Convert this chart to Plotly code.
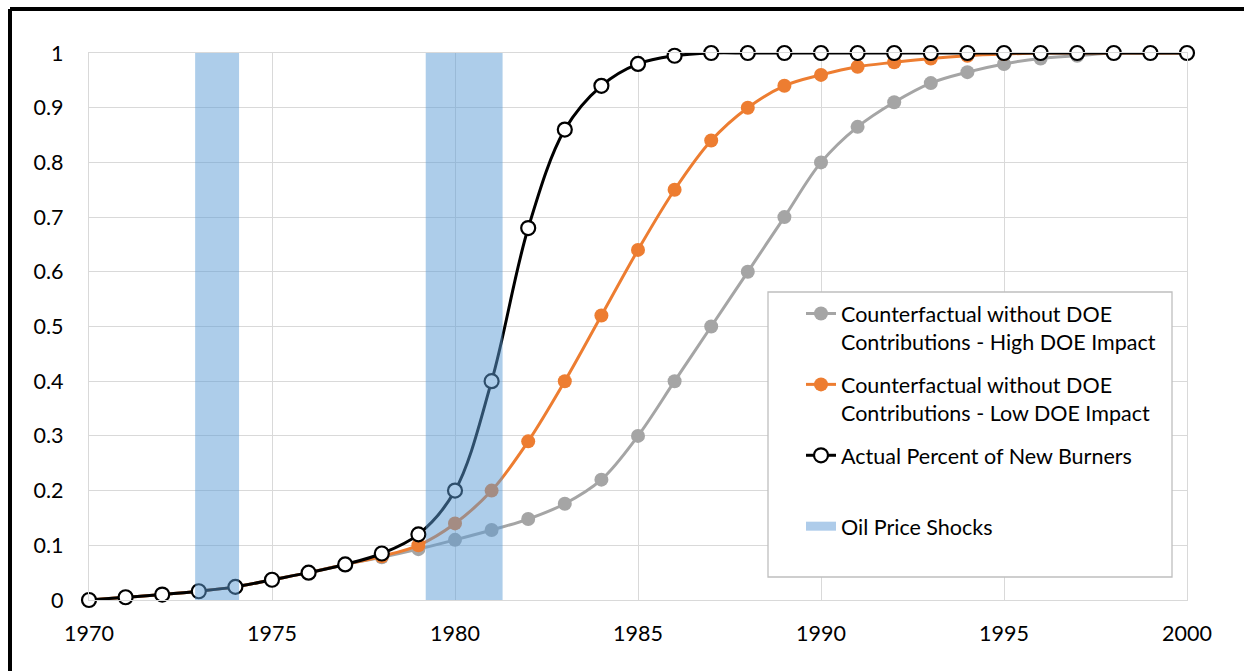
import plotly.graph_objects as go

years = list(range(1970, 2001))

high_impact = [0, 0.005, 0.01, 0.016, 0.024, 0.037, 0.05, 0.065, 0.078, 0.093,
               0.11, 0.128, 0.148, 0.176, 0.22, 0.30, 0.40, 0.50, 0.60, 0.70,
               0.80, 0.865, 0.91, 0.945, 0.965, 0.98, 0.99, 0.995, 1.0, 1.0, 1.0]
low_impact = [0, 0.005, 0.01, 0.016, 0.024, 0.037, 0.05, 0.065, 0.08, 0.10,
              0.14, 0.20, 0.29, 0.40, 0.52, 0.64, 0.75, 0.84, 0.90, 0.94,
              0.96, 0.975, 0.983, 0.99, 0.995, 0.998, 1.0, 1.0, 1.0, 1.0, 1.0]
actual = [0, 0.005, 0.01, 0.016, 0.024, 0.037, 0.05, 0.065, 0.085, 0.12,
          0.20, 0.40, 0.68, 0.86, 0.94, 0.98, 0.995, 1.0, 1.0, 1.0,
          1.0, 1.0, 1.0, 1.0, 1.0, 1.0, 1.0, 1.0, 1.0, 1.0, 1.0]

shock_starts = [1972.9, 1979.2]
shock_ends = [1974.1, 1981.3]

names = ["Counterfactual without DOE<br>Contributions - High DOE Impact",
         "Counterfactual without DOE<br>Contributions - Low DOE Impact",
         "Actual Percent of New Burners<br> ",
         "Oil Price Shocks"]

FONT = "Lato, 'Open Sans', sans-serif"
FS = 21.5
W, H = 1244, 671
L, R, T, B = 89, 1187, 53, 600  # plot area in screenshot pixels
pw, ph = R - L, B - T


def px_x(p):
    return (p - L) / pw


def px_y(p):
    return (B - p) / ph


fig = go.Figure()
fig.add_trace(go.Scatter(x=years, y=high_impact, name=names[0], mode="lines+markers",
                         legendgroup="g1",
                         line=dict(color="#A5A5A5", width=3, shape="spline"),
                         marker=dict(size=14, color="#A5A5A5"), cliponaxis=False))
fig.add_trace(go.Scatter(x=years, y=low_impact, name=names[1], mode="lines+markers",
                         legendgroup="g2",
                         line=dict(color="#ED7D31", width=3, shape="spline"),
                         marker=dict(size=14, color="#ED7D31"), cliponaxis=False))
fig.add_trace(go.Scatter(x=years, y=actual, name=names[2], mode="lines+markers",
                         legendgroup="g3",
                         line=dict(color="#000000", width=3, shape="spline"),
                         marker=dict(size=14, color="#FFFFFF", line=dict(color="#000000", width=2.2)),
                         cliponaxis=False))
fig.add_trace(go.Scatter(x=[None], y=[None], name=names[3], mode="lines",
                         legendgroup="g4",
                         line=dict(color="#AECCEA", width=9)))

shapes = []
for s, e in zip(shock_starts, shock_ends):
    shapes.append(dict(type="rect", xref="x", yref="y", x0=s, x1=e, y0=0, y1=1,
                       fillcolor="#5B9BD5", opacity=0.5, line=dict(width=0), layer="above"))

# legend box
shapes.append(dict(type="rect", xref="paper", yref="paper",
                   x0=px_x(768), x1=px_x(1172), y0=px_y(577), y1=px_y(292),
                   fillcolor="white", line=dict(color="#BFBFBF", width=1.3), layer="above"))
# outer black frame (left and top visible)
shapes.append(dict(type="line", xref="paper", yref="paper",
                   x0=px_x(10), x1=px_x(10), y0=px_y(9), y1=px_y(680),
                   line=dict(color="black", width=4)))
shapes.append(dict(type="line", xref="paper", yref="paper",
                   x0=px_x(10), x1=px_x(1250), y0=px_y(9), y1=px_y(9),
                   line=dict(color="black", width=4)))

fig.update_layout(
    width=W, height=H,
    margin=dict(l=L, r=W - R, t=T, b=H - B),
    plot_bgcolor="white", paper_bgcolor="white",
    font=dict(family=FONT, size=FS, color="black"),
    shapes=shapes,
    showlegend=True,
    legend=dict(x=px_x(801), y=px_y(293), xanchor="left", yanchor="top",
                bgcolor="rgba(0,0,0,0)", borderwidth=0, valign="top",
                font=dict(family=FONT, size=FS, color="black"),
                tracegroupgap=12),
    xaxis=dict(range=[1970, 2000], tickmode="array", tickvals=list(range(1970, 2001, 5)),
               showgrid=True, gridcolor="#D9D9D9", gridwidth=1.3,
               showline=True, linecolor="#D9D9D9", linewidth=1.3, mirror=True,
               zeroline=False, ticks="", ticklabelstandoff=14,
               tickfont=dict(family=FONT, size=FS, color="black")),
    yaxis=dict(range=[0, 1], dtick=0.1, tick0=0,
               showgrid=True, gridcolor="#D9D9D9", gridwidth=1.3,
               showline=True, linecolor="#D9D9D9", linewidth=1.3, mirror=True,
               zeroline=False, ticks="", ticklabelstandoff=20,
               tickfont=dict(family=FONT, size=FS, color="black")),
)

fig.write_html("out.html",
               config={"displayModeBar": False},
               post_script="document.body.style.margin='0';document.body.style.overflow='hidden';")
